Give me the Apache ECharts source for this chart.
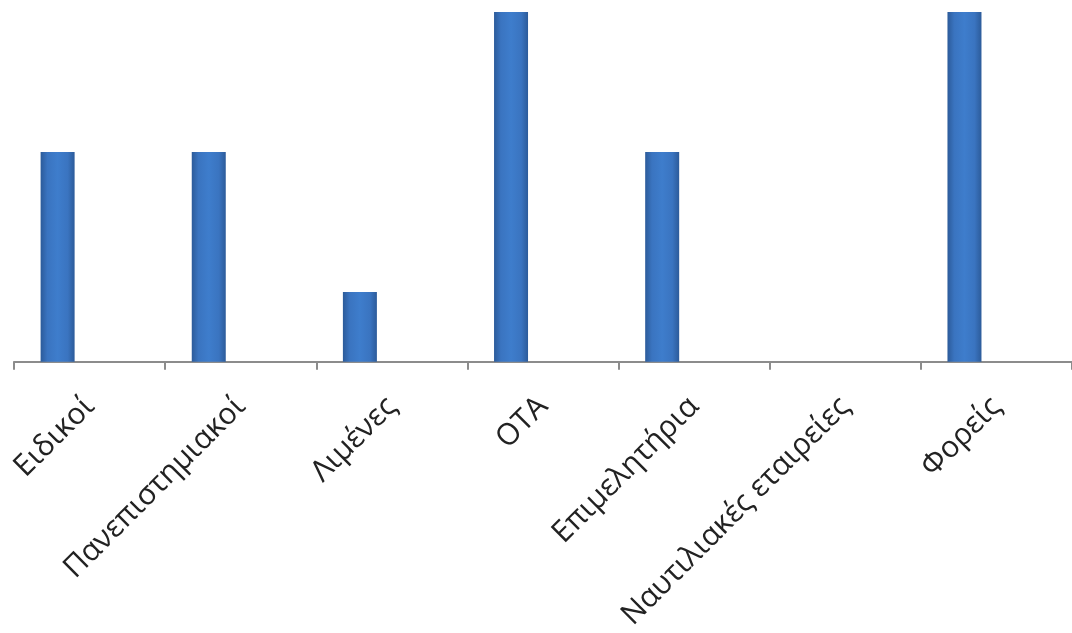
<!DOCTYPE html>
<html>
<head>
<meta charset="utf-8">
<script src="https://cdn.jsdelivr.net/npm/echarts@6/dist/echarts.min.js"></script>
<style>html,body{margin:0;padding:0;background:#fff;}#c{width:1072px;height:633px;}</style>
</head>
<body>
<div id="c"></div>
<script>
const categories = ['Ειδικοί', 'Πανεπιστημιακοί', 'Λιμένες', 'ΟΤΑ', 'Επιμελητήρια', 'Ναυτιλιακές εταιρείες', 'Φορείς'];
const values = [3, 3, 1, 5, 3, 0, 5];
const emptySeries = [];

const chart = echarts.init(document.getElementById('c'));
const barColor = {
  type: 'linear', x: 0, y: 0, x2: 1, y2: 0,
  colorStops: [
    {offset: 0, color: '#2c5b9a'},
    {offset: 0.2, color: '#3a74c0'},
    {offset: 0.5, color: '#3e7dcc'},
    {offset: 0.8, color: '#3a74c0'},
    {offset: 1, color: '#2c5b9a'}
  ]
};
chart.setOption({
  animation: false,
  grid: {left: 14, right: -7, top: 12, bottom: 270, containLabel: false},
  xAxis: {
    type: 'category',
    data: categories,
    axisLine: {lineStyle: {color: '#8c8c8c', width: 2}},
    axisTick: {show: true, length: 8, lineStyle: {color: '#8c8c8c', width: 2}},
    axisLabel: {rotate: 45, margin: 40, fontFamily: 'Open Sans', fontSize: 30, color: '#222'}
  },
  yAxis: {
    type: 'value', min: 0, max: 5, show: false,
    splitLine: {show: false}
  },
  series: [
    {type: 'bar', data: values, barWidth: 34, barGap: '88%',
     itemStyle: {color: barColor}},
    {type: 'bar', data: emptySeries, barWidth: 34}
  ]
});
</script>
</body>
</html>
